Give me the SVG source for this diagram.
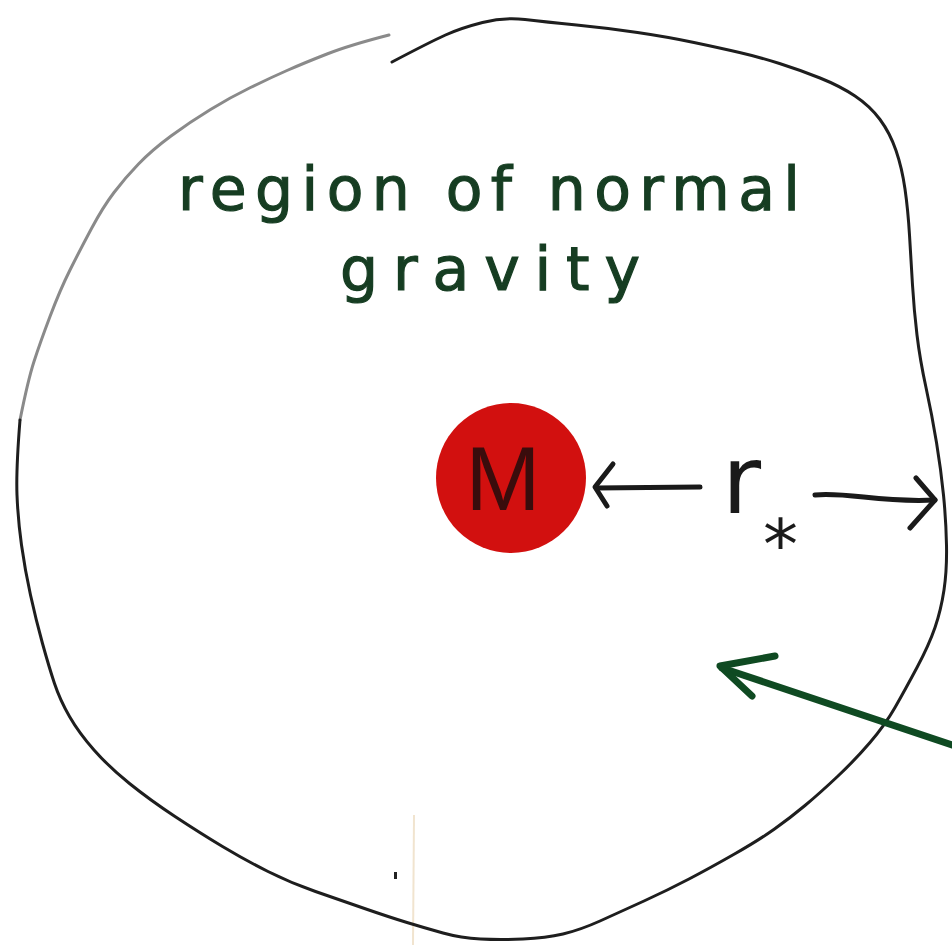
<svg xmlns="http://www.w3.org/2000/svg" width="952" height="945" viewBox="0 0 952 945">
<style>
.bnd{fill:none;stroke:#1e1e1e;stroke-width:3;stroke-linejoin:round;stroke-linecap:round}
.gray{fill:none;stroke:#8a8a8a;stroke-width:3;stroke-linejoin:round;stroke-linecap:round}
.ink{fill:none;stroke:#1a1a1a;stroke-width:5;stroke-linecap:round;stroke-linejoin:round}
.gink{fill:none;stroke:#0f4a22;stroke-width:7;stroke-linecap:round;stroke-linejoin:round}
.lbl{font-family:"DejaVu Sans",sans-serif;fill:#163d22;stroke:#163d22;stroke-width:1.2}
</style>
<rect width="952" height="945" fill="#ffffff"/>
<line x1="414" y1="815" x2="413" y2="945" stroke="#f1e4cf" stroke-width="2"/>
<rect x="394" y="872" width="3" height="7" fill="#222"/>
<g id="boundary">
<path class="gray" d="M20,420 Q28,380 34,361.5 Q40,343 50,316.5 Q60,290 70,270 Q80,250 91.5,228.5 Q103,207 114,192.5 Q125,178 138.5,164 Q152,150 171,136 Q190,122 210.5,109.5 Q231,97 250.5,87.5 Q270,78 287,70.5 Q304,63 327,54 Q350,45 389,35"/>
<path class="bnd" d="M20,420 Q16,470 17,495 Q18,520 21.5,545 Q25,570 30.5,595 Q36,620 42.5,643.5 Q49,667 54.5,683.5 Q60,700 69.5,716.5 Q79,733 94,750 Q109,767 129.5,783.5 Q150,800 175,816.5 Q200,833 222.5,846.5 Q245,860 268,871.5 Q291,883 315.5,891.5 Q340,900 364.5,908.5 Q389,917 407,922.5 Q425,928 443,933 Q461,938 480.5,939 Q500,940 523,939 Q546,938 563,934 Q580,930 600,921 Q620,912 644,901 Q668,890 689,879 Q710,868 734.5,854 Q759,840 774.5,829 Q790,818 805,805.5 Q820,793 837.5,776.5 Q855,760 870,742.5 Q885,725 895,707.5 Q905,690 917,667.5 Q929,645 935,627.5 Q941,610 944,590 Q947,570 946.5,545 Q946,520 943.5,495 Q941,470 936.5,442.5 Q932,415 926,387.5 Q920,360 917,335 Q914,310 912.5,285 Q911,260 909.5,235 Q908,210 905,189 Q902,168 896,150.5 Q890,133 880,119.5 Q870,106 855,96 Q840,86 820,78 Q800,70 779.5,63.5 Q759,57 739.5,52.5 Q720,48 694,42.5 Q668,37 637.5,32.5 Q607,28 576.5,25 Q546,22 525,19.5 Q504,17 482.5,22.5 Q461,28 445.5,35 Q430,42 392,62"/>
</g>
<g id="label">
<text class="lbl" x="178" y="210" font-size="60" textLength="622" lengthAdjust="spacing">region of normal</text>
<text class="lbl" x="340" y="290" font-size="60" textLength="300" lengthAdjust="spacing">gravity</text>
</g>
<g id="mass">
<circle cx="511" cy="478" r="75" fill="#d2100f"/>
<text x="503" y="510" font-family="Liberation Sans, sans-serif" font-size="90" text-anchor="middle" fill="#3a0c0c">M</text>
</g>
<g id="radius">
<text x="722" y="513" font-family="DejaVu Sans, sans-serif" font-size="95" fill="#1a1a1a">r<tspan dx="2" dy="56" font-size="70">*</tspan></text>
</g>
<g id="connectors">
<path class="ink" d="M596,488 L700,487"/>
<path class="ink" d="M613,464 L595,487 L607,506"/>
<path class="ink" d="M815,495 C850,492 880,503 935,500"/>
<path class="ink" d="M916,478 L935,500 L910,528"/>
<path class="gink" d="M952,745 L722,668"/>
<path class="gink" d="M775,656 L720,666 L752,696"/>
</g>
</svg>
